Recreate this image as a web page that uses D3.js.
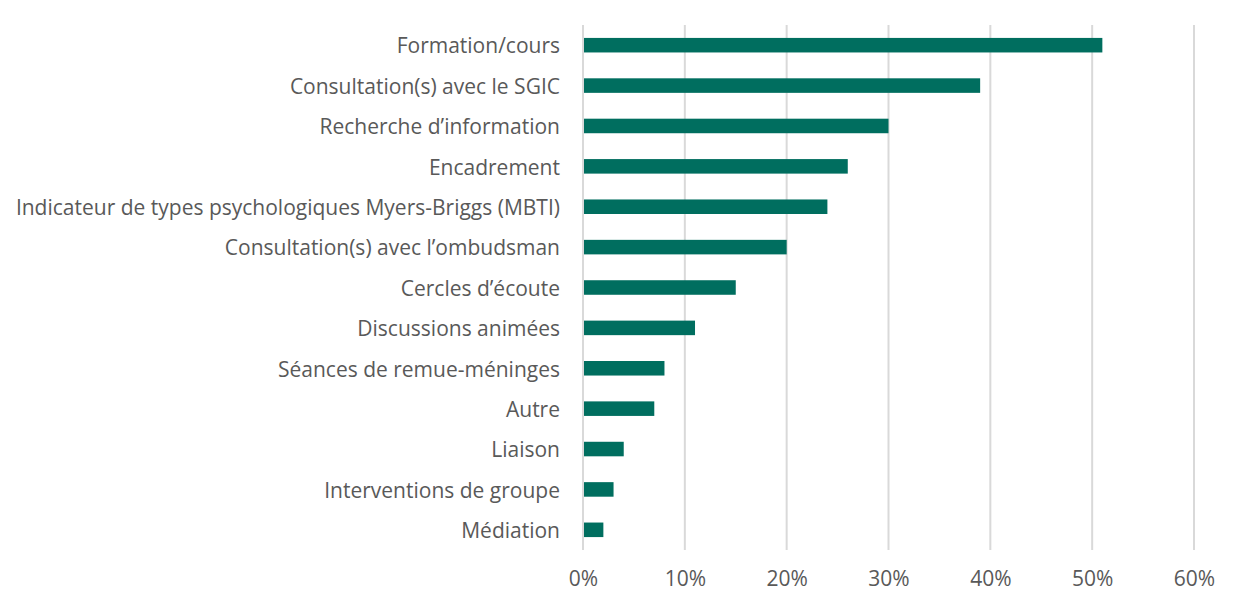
<!DOCTYPE html>
<html>
<head>
<meta charset="utf-8">
<script src="https://cdn.jsdelivr.net/npm/d3@7"></script>
<style>
  body { margin: 0; background: #fff; }
  svg text { font-family: "Open Sans", sans-serif; fill: #595959; }
</style>
</head>
<body>
<svg id="chart" width="1239" height="608"></svg>
<script>

// categories, top to bottom
const categories = [
    "Formation/cours",
    "Consultation(s) avec le SGIC",
    "Recherche d\u2019information",
    "Encadrement",
    "Indicateur de types psychologiques Myers-Briggs (MBTI)",
    "Consultation(s) avec l\u2019ombudsman",
    "Cercles d\u2019\u00e9coute",
    "Discussions anim\u00e9es",
    "S\u00e9ances de remue-m\u00e9ninges",
    "Autre",
    "Liaison",
    "Interventions de groupe",
    "M\u00e9diation"
];

// share of respondents, percent
const values = [51, 39, 30, 26, 24, 20, 15, 11, 8, 7, 4, 3, 2];

const tickValues = [0, 10, 20, 30, 40, 50, 60];

const barColor = "#006e5f";
const gridColor = "#d9d9d9";

function draw_chart( svg_id ){

    let svg = d3.select(svg_id);
    let margin = { left: 583, right: 45, top: 25, bottom: 58 };
    let W = +svg.attr("width"), H = +svg.attr("height");

    let x = d3.scaleLinear()
        .domain([0, 60])
        .range([margin.left, W - margin.right]);

    let y = d3.scaleBand()
        .domain(categories)
        .range([margin.top, H - margin.bottom])
        .paddingInner(0.64)
        .paddingOuter(0.32);

    // vertical gridlines
    svg.append("g").selectAll("line")
        .data(tickValues)
        .enter().append("line")
            .attr("x1", d => x(d))
            .attr("x2", d => x(d))
            .attr("y1", margin.top)
            .attr("y2", H - margin.bottom)
            .attr("stroke", gridColor)
            .attr("stroke-width", 2);

    // bars
    svg.append("g").selectAll("rect")
        .data(values)
        .enter().append("rect")
            .attr("x", x(0) + 1)
            .attr("y", (d, i) => y(categories[i]))
            .attr("width", d => x(d) - x(0) - 1)
            .attr("height", y.bandwidth())
            .attr("fill", barColor);

    // category labels
    let yAxis = d3.axisLeft(y).tickSize(0).tickPadding(23);
    let gy = svg.append("g")
        .attr("transform", "translate(" + x(0) + ",1.5)")
        .call(yAxis);
    gy.select(".domain").remove();
    gy.selectAll("text")
        .style("font-size", "21px")
        .style("fill", "#595959")
        .attr("font-family", null);

    // percent ticks
    let xAxis = d3.axisBottom(x)
        .tickValues(tickValues)
        .tickSize(0)
        .tickPadding(21)
        .tickFormat(d => d + "%");
    let gx = svg.append("g")
        .attr("transform", "translate(0," + (H - margin.bottom) + ")")
        .call(xAxis);
    gx.select(".domain").remove();
    gx.selectAll("text")
        .style("font-size", "21px")
        .style("fill", "#595959")
        .attr("font-family", null);
}

draw_chart("#chart");

</script>
</body>
</html>
